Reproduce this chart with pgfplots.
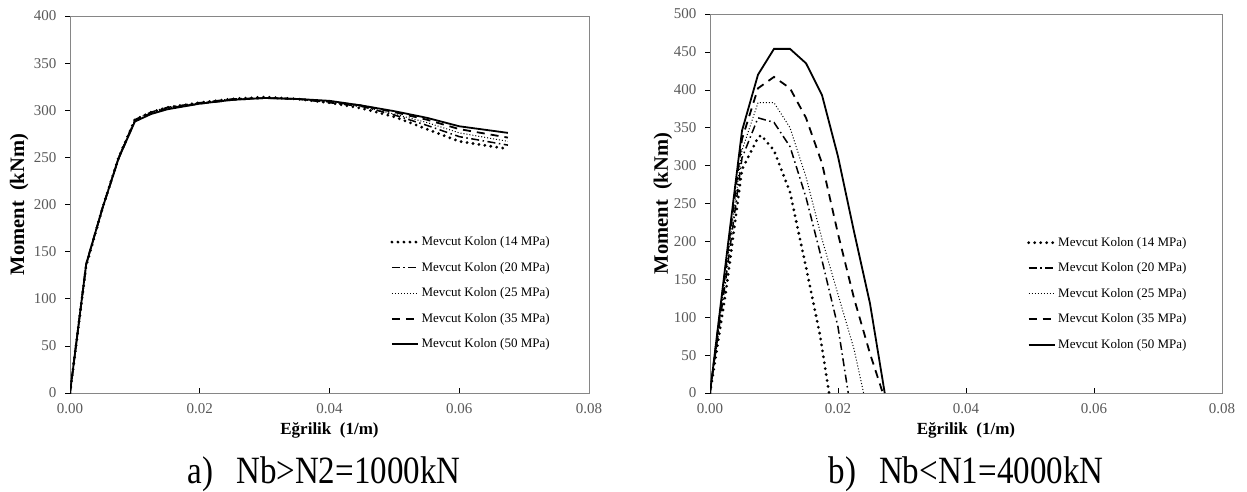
\documentclass[border=0pt]{standalone}
\usepackage{fontspec}
\setmainfont{Liberation Serif}
\usepackage{graphicx}
\usepackage{pgfplots}
\pgfplotsset{compat=1.18}
\definecolor{tickgray}{HTML}{595959}
\definecolor{framegray}{HTML}{868686}
\pgfplotsset{
  mystyle/.style={
    scale only axis,
    xmin=0, xmax=0.08, ymin=0,
    xtick={0,0.02,0.04,0.06,0.08},
    scaled x ticks=false,
    axis line style={framegray, line width=0.9pt},
    tick style={black, line width=0.6pt},
    tick align=inside,
    major tick length=5pt,
    y tick style={xshift=-5pt},
    xtick pos=bottom, ytick pos=left,
    /pgf/number format/assume math mode=true,
    ticklabel style={font=\fontsize{15}{15}\selectfont, text=tickgray},
    x tick label style={yshift=-7pt, /pgf/number format/fixed, /pgf/number format/fixed zerofill, /pgf/number format/precision=2},
    y tick label style={xshift=-10pt},
    every axis x label/.style={at={(axis description cs:0.5,-0.098)}, anchor=center},
    xlabel style={font=\bfseries\fontsize{17}{17}\selectfont},
    ylabel style={font=\bfseries\fontsize{20.5}{20.5}\selectfont},
    xlabel={Eğrilik\hspace{0.5em}(1/m)},
    ylabel={Moment\hspace{0.5em}(kNm)},
    legend cell align=left,
    legend style={draw=none, fill=none, inner sep=0pt, row sep=11pt,
      font=\fontsize{13}{13}\selectfont},
    legend image code/.code={\draw[##1] (0pt,0pt) -- (26pt,0pt);},
  },
  s14/.style={black, line width=3.1pt, line cap=round, dash pattern=on 0pt off 6pt},
  s20/.style={black, line width=1.5pt, dash pattern=on 8pt off 3.5pt on 1.5pt off 3.5pt},
  s25/.style={black, line width=1pt, dash pattern=on 1pt off 2pt},
  s35/.style={black, line width=1.8pt, dash pattern=on 8pt off 6pt},
  s50/.style={black, line width=1.8pt},
}
\begin{document}
\begin{tikzpicture}
\useasboundingbox (0,0) rectangle (1247pt,491pt);
\begin{axis}[mystyle, at={(70pt,98pt)}, anchor=south west,
  width=519pt, height=377pt, ymax=400, ytick={0,50,...,400},
  ylabel style={at={(axis description cs:-0.098,0.5)}, anchor=center},
  legend style={at={(rel axis cs:0.617,0.265)}, anchor=west}]
\addplot[s14] coordinates {(0,0) (0.0025,135) (0.005,196) (0.0075,250) (0.01,290) (0.0125,298) (0.015,303) (0.02,308) (0.025,312) (0.03,314) (0.035,312) (0.04,308) (0.045,302) (0.05,293) (0.055,280) (0.06,267) (0.0675,259)};
\addlegendentry{Mevcut Kolon (14 MPa)}
\addplot[s20] coordinates {(0,0) (0.0025,136) (0.005,196) (0.0075,250) (0.01,290) (0.0125,298) (0.015,303) (0.02,308) (0.025,312) (0.03,313) (0.035,312) (0.04,308) (0.045,304) (0.05,295) (0.055,284) (0.06,272) (0.0675,263)};
\addlegendentry{Mevcut Kolon (20 MPa)}
\addplot[s25] coordinates {(0,0) (0.0025,137) (0.005,197) (0.0075,250) (0.01,290) (0.0125,298) (0.015,302) (0.02,308) (0.025,311) (0.03,313) (0.035,312) (0.04,309) (0.045,304) (0.05,296) (0.055,287) (0.06,276) (0.0675,267)};
\addlegendentry{Mevcut Kolon (25 MPa)}
\addplot[s35] coordinates {(0,0) (0.0025,137) (0.005,196) (0.0075,249) (0.01,289) (0.0125,297) (0.015,302) (0.02,307) (0.025,311) (0.03,313) (0.035,312) (0.04,309) (0.045,305) (0.05,298) (0.055,290) (0.06,280) (0.0675,271)};
\addlegendentry{Mevcut Kolon (35 MPa)}
\addplot[s50] coordinates {(0,0) (0.0025,137) (0.005,196) (0.0075,249) (0.01,288) (0.0125,296) (0.015,301) (0.02,307) (0.025,311) (0.03,313) (0.035,312) (0.04,310) (0.045,305) (0.05,299) (0.055,292) (0.06,283) (0.0675,276)};
\addlegendentry{Mevcut Kolon (50 MPa)}
\end{axis}
\begin{axis}[mystyle, at={(710pt,98pt)}, anchor=south west,
  width=512pt, height=379pt, ymax=500, ytick={0,50,...,500},
  ylabel style={at={(axis description cs:-0.092,0.5)}, anchor=center},
  legend style={at={(rel axis cs:0.619,0.262)}, anchor=west}]
\addplot[s14] coordinates {(0,0) (0.0025,135) (0.005,295) (0.0075,337) (0.008,340) (0.01,320) (0.0125,265) (0.015,166) (0.0172,76) (0.0186,0)};
\addlegendentry{Mevcut Kolon (14 MPa)}
\addplot[s20] coordinates {(0,0) (0.0025,152) (0.005,310) (0.0075,363) (0.01,357) (0.0125,325) (0.015,258) (0.0175,175) (0.02,87) (0.0216,0)};
\addlegendentry{Mevcut Kolon (20 MPa)}
\addplot[s25] coordinates {(0,0) (0.0025,160) (0.005,320) (0.0075,383) (0.01,383) (0.0125,350) (0.015,285) (0.0175,203) (0.02,130) (0.0225,58) (0.024,0)};
\addlegendentry{Mevcut Kolon (25 MPa)}
\addplot[s35] coordinates {(0,0) (0.0025,168) (0.005,335) (0.0075,402) (0.01,417) (0.0125,402) (0.015,363) (0.0175,303) (0.02,210) (0.0225,125) (0.025,52) (0.027,0)};
\addlegendentry{Mevcut Kolon (35 MPa)}
\addplot[s50] coordinates {(0,0) (0.0025,175) (0.005,346) (0.0075,420) (0.01,454) (0.0125,454) (0.015,435) (0.0175,393) (0.02,312) (0.0225,213) (0.025,118) (0.0273,0)};
\addlegendentry{Mevcut Kolon (50 MPa)}
\end{axis}
\node[anchor=base, inner sep=0pt, font=\fontsize{33}{33}\selectfont] at (324pt,8pt) {\scalebox{1}[1.17]{a)\hspace{0.7em}Nb>N2=1000kN}};
\node[anchor=base, inner sep=0pt, font=\fontsize{33}{33}\selectfont] at (966pt,8pt) {\scalebox{1}[1.17]{b)\hspace{0.7em}Nb<N1=4000kN}};
\end{tikzpicture}
\end{document}
